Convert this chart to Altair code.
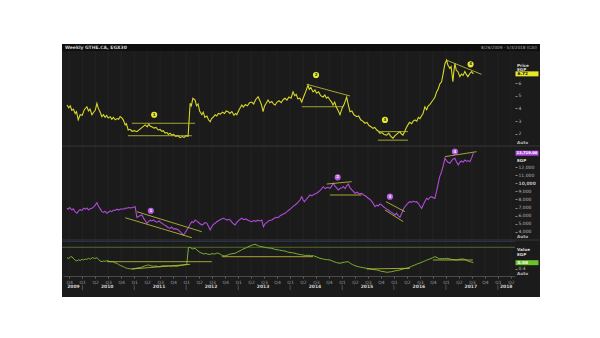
import altair as alt
import pandas as pd

# ---------------- data (x = decimal year, weekly series) ----------------
price_pts = [
    (2009.706, 4.27), (2009.74, 4.05), (2009.77, 4.2), (2009.80, 3.85), (2009.83, 3.95), (2009.865, 3.6),
    (2009.89, 3.75), (2009.923, 3.1), (2009.96, 3.5), (2010.00, 3.45), (2010.04, 3.9), (2010.09, 4.13),
    (2010.12, 3.8), (2010.15, 3.95), (2010.187, 3.5), (2010.22, 3.7), (2010.25, 3.85), (2010.283, 4.4),
    (2010.31, 4.0), (2010.34, 3.75), (2010.379, 3.35), (2010.41, 3.5), (2010.44, 3.3), (2010.47, 3.45),
    (2010.5, 3.25), (2010.54, 3.35), (2010.57, 3.15), (2010.60, 3.3), (2010.635, 3.1), (2010.67, 3.2),
    (2010.70, 3.15), (2010.73, 3.35), (2010.763, 3.25), (2010.79, 3.1), (2010.827, 2.7), (2010.85, 2.8),
    (2010.885, 2.3), (2010.92, 2.35), (2010.96, 2.2), (2011.00, 2.25), (2011.052, 2.17), (2011.212, 2.7),
    (2011.25, 2.55), (2011.28, 2.75), (2011.31, 2.6), (2011.34, 2.56), (2011.38, 2.45), (2011.42, 2.5),
    (2011.462, 2.3), (2011.50, 2.35), (2011.53, 2.2), (2011.56, 2.25), (2011.596, 2.06), (2011.63, 2.1),
    (2011.66, 1.95), (2011.69, 2.05), (2011.725, 1.9), (2011.76, 1.95), (2011.80, 1.8), (2011.84, 1.85),
    (2011.885, 1.7), (2011.92, 1.78), (2011.96, 1.72), (2012.00, 1.85), (2012.038, 1.8), (2012.077, 4.4),
    (2012.10, 4.2), (2012.13, 4.8), (2012.173, 4.66), (2012.20, 4.2), (2012.23, 4.35), (2012.26, 3.8),
    (2012.302, 3.5), (2012.33, 3.7), (2012.36, 3.3), (2012.40, 3.4), (2012.43, 3.1), (2012.462, 2.95),
    (2012.49, 3.2), (2012.52, 3.3), (2012.558, 3.5), (2012.59, 3.4), (2012.62, 3.6), (2012.66, 3.55),
    (2012.70, 3.7), (2012.74, 3.6), (2012.77, 3.8), (2012.808, 3.74), (2012.84, 3.6), (2012.88, 3.75),
    (2012.92, 3.45), (2012.95, 3.6), (2012.975, 3.5), (2013.02, 3.9), (2013.071, 4.27), (2013.10, 4.1),
    (2013.14, 4.3), (2013.18, 4.2), (2013.22, 4.45), (2013.263, 4.5), (2013.30, 4.35), (2013.34, 4.7),
    (2013.385, 4.92), (2013.42, 4.6), (2013.45, 4.3), (2013.481, 3.74), (2013.51, 4.2), (2013.54, 4.4),
    (2013.577, 4.66), (2013.61, 4.45), (2013.65, 4.55), (2013.68, 4.35), (2013.712, 4.27), (2013.75, 4.5),
    (2013.79, 4.6), (2013.83, 4.45), (2013.87, 4.7), (2013.904, 4.8), (2013.94, 4.65), (2013.98, 4.9),
    (2014.02, 4.8), (2014.058, 5.3), (2014.09, 5.0), (2014.12, 5.1), (2014.15, 4.75), (2014.19, 4.8),
    (2014.225, 4.5), (2014.26, 4.9), (2014.30, 5.3), (2014.346, 5.84), (2014.37, 5.5), (2014.40, 5.65),
    (2014.442, 5.3), (2014.48, 5.45), (2014.51, 5.2), (2014.55, 5.3), (2014.59, 5.0), (2014.635, 4.9),
    (2014.67, 5.05), (2014.70, 4.8), (2014.73, 4.9), (2014.769, 4.66), (2014.80, 4.5), (2014.827, 4.27),
    (2014.86, 4.5), (2014.89, 4.1), (2014.93, 3.8), (2014.962, 3.5), (2015.00, 4.0), (2015.04, 4.3),
    (2015.09, 4.9), (2015.12, 4.3), (2015.154, 3.74), (2015.19, 3.8), (2015.23, 3.5), (2015.283, 3.35),
    (2015.32, 3.4), (2015.36, 3.1), (2015.40, 3.0), (2015.442, 2.83), (2015.48, 2.9), (2015.52, 2.65),
    (2015.56, 2.55), (2015.596, 2.43), (2015.63, 2.5), (2015.67, 2.3), (2015.70, 2.2), (2015.731, 2.04),
    (2015.77, 2.1), (2015.81, 1.95), (2015.86, 1.9), (2015.90, 2.05), (2015.94, 1.8), (2015.981, 1.65),
    (2016.02, 1.85), (2016.06, 2.0), (2016.115, 2.17), (2016.14, 2.0), (2016.173, 1.9), (2016.21, 2.2),
    (2016.24, 2.5), (2016.269, 2.7), (2016.30, 2.9), (2016.34, 2.8), (2016.37, 3.0), (2016.404, 3.09),
    (2016.44, 3.0), (2016.47, 3.3), (2016.5, 3.2), (2016.53, 3.4), (2016.56, 3.6), (2016.596, 4.13),
    (2016.63, 3.9), (2016.66, 4.2), (2016.69, 4.3), (2016.725, 4.5), (2016.76, 4.7), (2016.79, 4.9),
    (2016.821, 5.3), (2016.85, 5.5), (2016.88, 5.9), (2016.917, 6.1), (2016.95, 6.8), (2016.98, 7.5),
    (2017.013, 7.8), (2017.04, 7.4), (2017.077, 7.15), (2017.10, 7.3), (2017.135, 6.1), (2017.15, 6.8),
    (2017.173, 7.55), (2017.20, 7.0), (2017.23, 6.9), (2017.269, 6.5), (2017.30, 6.7), (2017.33, 6.6),
    (2017.365, 6.9), (2017.39, 6.7), (2017.423, 6.5), (2017.46, 6.75), (2017.494, 6.9), (2017.53, 6.72),
]

index_pts = [
    (2009.706, 6914), (2009.73, 6800), (2009.76, 7000), (2009.802, 6700), (2009.83, 6850), (2009.86, 6500),
    (2009.898, 6295), (2009.93, 6600), (2009.96, 6750), (2010.00, 6650), (2010.025, 6914), (2010.06, 6800),
    (2010.09, 6950), (2010.121, 6700), (2010.15, 6850), (2010.187, 6914), (2010.22, 7100), (2010.25, 7300),
    (2010.283, 7604), (2010.31, 7200), (2010.34, 6900), (2010.379, 6500), (2010.41, 6400), (2010.44, 6550),
    (2010.475, 6295), (2010.51, 6450), (2010.54, 6600), (2010.57, 6500), (2010.602, 6700), (2010.63, 6650),
    (2010.67, 6800), (2010.70, 6700), (2010.731, 6790), (2010.76, 6850), (2010.80, 6800), (2010.83, 6950),
    (2010.86, 6914), (2010.90, 7000), (2010.94, 6950), (2010.98, 7050), (2011.019, 7110), (2011.052, 5800),
    (2011.10, 5950), (2011.148, 6085), (2011.18, 5700), (2011.21, 5400), (2011.244, 5060), (2011.28, 5300),
    (2011.31, 5450), (2011.34, 5350), (2011.371, 5470), (2011.40, 5300), (2011.44, 5200), (2011.48, 5350),
    (2011.533, 5060), (2011.57, 4900), (2011.61, 4750), (2011.65, 4550), (2011.692, 4440), (2011.72, 4600),
    (2011.76, 4350), (2011.80, 4400), (2011.852, 4230), (2011.89, 4000), (2011.92, 3800), (2011.948, 3615),
    (2011.98, 3900), (2012.013, 4230), (2012.05, 4600), (2012.08, 5000), (2012.11, 5260), (2012.14, 5150),
    (2012.173, 5470), (2012.21, 5300), (2012.25, 5100), (2012.302, 4850), (2012.33, 4950), (2012.36, 5150),
    (2012.398, 5060), (2012.43, 4700), (2012.462, 4230), (2012.49, 4600), (2012.52, 4900), (2012.558, 5060),
    (2012.59, 5250), (2012.63, 5400), (2012.67, 5550), (2012.717, 5680), (2012.75, 5600), (2012.79, 5450),
    (2012.82, 5550), (2012.846, 5470), (2012.88, 5200), (2012.91, 5000), (2012.942, 4850), (2012.98, 5200),
    (2013.02, 5450), (2013.071, 5680), (2013.11, 5500), (2013.15, 5600), (2013.20, 5400), (2013.263, 5260),
    (2013.30, 5400), (2013.34, 5300), (2013.38, 5450), (2013.42, 5350), (2013.456, 5470), (2013.487, 4640),
    (2013.52, 5000), (2013.56, 5200), (2013.60, 5400), (2013.648, 5470), (2013.69, 5650), (2013.73, 5800),
    (2013.77, 5750), (2013.81, 6000), (2013.85, 6150), (2013.904, 6295), (2013.94, 6500), (2013.98, 6700),
    (2014.02, 6900), (2014.06, 7150), (2014.096, 7320), (2014.13, 7500), (2014.16, 7700), (2014.192, 7940),
    (2014.225, 8345), (2014.25, 8000), (2014.275, 7730), (2014.31, 8000), (2014.35, 8300), (2014.385, 8555),
    (2014.42, 8450), (2014.46, 8650), (2014.513, 8765), (2014.55, 8950), (2014.59, 9200), (2014.64, 9580),
    (2014.68, 9350), (2014.72, 9500), (2014.769, 9380), (2014.80, 9650), (2014.833, 10000), (2014.86, 9700),
    (2014.90, 9400), (2014.929, 9170), (2014.96, 9350), (2015.00, 9450), (2015.025, 9580), (2015.06, 9350),
    (2015.09, 9700), (2015.121, 9910), (2015.15, 9500), (2015.19, 9200), (2015.22, 9000), (2015.25, 8765),
    (2015.29, 8900), (2015.33, 8700), (2015.379, 8765), (2015.42, 8550), (2015.46, 8400), (2015.506, 8150),
    (2015.54, 8000), (2015.58, 7700), (2015.61, 7400), (2015.635, 7110), (2015.67, 7300), (2015.70, 7200),
    (2015.73, 7450), (2015.763, 7320), (2015.80, 7100), (2015.84, 6900), (2015.89, 6700), (2015.93, 6500),
    (2015.97, 6350), (2016.019, 6085), (2016.05, 6300), (2016.08, 6000), (2016.115, 5800), (2016.15, 6300),
    (2016.18, 6800), (2016.212, 7110), (2016.25, 7400), (2016.28, 7600), (2016.308, 7730), (2016.34, 7650),
    (2016.37, 7800), (2016.40, 7700), (2016.437, 7730), (2016.47, 7500), (2016.50, 7200), (2016.533, 6914),
    (2016.56, 7300), (2016.60, 7800), (2016.629, 8150), (2016.66, 8000), (2016.69, 8250), (2016.725, 8345),
    (2016.76, 8200), (2016.788, 8150), (2016.82, 9000), (2016.852, 10000), (2016.88, 10800), (2016.917, 11430),
    (2016.95, 12200), (2016.981, 13090), (2017.01, 12800), (2017.04, 12600), (2017.077, 12470), (2017.11, 12800),
    (2017.14, 13000), (2017.173, 13090), (2017.20, 12700), (2017.237, 12260), (2017.27, 12600), (2017.30, 12750),
    (2017.33, 12600), (2017.365, 12880), (2017.40, 12700), (2017.43, 12800), (2017.462, 12670), (2017.50, 13200),
    (2017.53, 13719),
]

value_pts = [
    (2009.706, 0.583), (2009.74, 0.57), (2009.77, 0.595), (2009.802, 0.6), (2009.84, 0.56), (2009.87, 0.54),
    (2009.898, 0.528), (2009.93, 0.55), (2009.96, 0.535), (2010.00, 0.56), (2010.025, 0.545), (2010.06, 0.56),
    (2010.09, 0.555), (2010.121, 0.573), (2010.16, 0.56), (2010.20, 0.585), (2010.24, 0.57), (2010.283, 0.583),
    (2010.31, 0.56), (2010.34, 0.53), (2010.379, 0.517), (2010.41, 0.53), (2010.44, 0.52), (2010.47, 0.535),
    (2010.506, 0.528), (2010.54, 0.515), (2010.58, 0.52), (2010.62, 0.5), (2010.667, 0.49), (2010.70, 0.47),
    (2010.73, 0.455), (2010.76, 0.445), (2010.794, 0.433), (2010.83, 0.415), (2010.87, 0.405), (2010.91, 0.4),
    (2010.956, 0.395), (2011.00, 0.4), (2011.05, 0.41), (2011.115, 0.417), (2011.16, 0.43), (2011.20, 0.445),
    (2011.24, 0.455), (2011.275, 0.462), (2011.32, 0.45), (2011.37, 0.44), (2011.42, 0.445), (2011.467, 0.433),
    (2011.51, 0.44), (2011.56, 0.45), (2011.61, 0.445), (2011.66, 0.45), (2011.70, 0.44), (2011.75, 0.445),
    (2011.80, 0.44), (2011.852, 0.445), (2011.90, 0.455), (2011.95, 0.46), (2012.013, 0.473), (2012.044, 0.75),
    (2012.08, 0.755), (2012.12, 0.73), (2012.173, 0.74), (2012.21, 0.71), (2012.25, 0.68), (2012.302, 0.657),
    (2012.34, 0.645), (2012.38, 0.655), (2012.42, 0.64), (2012.462, 0.64), (2012.50, 0.65), (2012.55, 0.645),
    (2012.59, 0.66), (2012.621, 0.657), (2012.66, 0.64), (2012.70, 0.62), (2012.75, 0.612), (2012.79, 0.625),
    (2012.83, 0.64), (2012.88, 0.65), (2012.942, 0.657), (2012.99, 0.68), (2013.04, 0.70), (2013.09, 0.725),
    (2013.135, 0.74), (2013.18, 0.76), (2013.23, 0.78), (2013.28, 0.795), (2013.327, 0.807), (2013.37, 0.79),
    (2013.41, 0.775), (2013.456, 0.767), (2013.50, 0.76), (2013.55, 0.75), (2013.60, 0.745), (2013.648, 0.74),
    (2013.70, 0.725), (2013.75, 0.715), (2013.80, 0.71), (2013.85, 0.70), (2013.904, 0.695), (2013.95, 0.68),
    (2014.00, 0.67), (2014.05, 0.665), (2014.096, 0.657), (2014.14, 0.645), (2014.20, 0.635), (2014.256, 0.628),
    (2014.30, 0.62), (2014.35, 0.625), (2014.40, 0.615), (2014.448, 0.617), (2014.50, 0.6), (2014.54, 0.585),
    (2014.577, 0.573), (2014.62, 0.565), (2014.67, 0.555), (2014.72, 0.55), (2014.769, 0.545), (2014.81, 0.53),
    (2014.85, 0.515), (2014.90, 0.5), (2014.962, 0.49), (2015.00, 0.5), (2015.05, 0.51), (2015.121, 0.517),
    (2015.16, 0.49), (2015.20, 0.47), (2015.25, 0.45), (2015.313, 0.433), (2015.36, 0.425), (2015.42, 0.415),
    (2015.475, 0.407), (2015.52, 0.4), (2015.57, 0.39), (2015.62, 0.385), (2015.667, 0.378), (2015.71, 0.37),
    (2015.76, 0.355), (2015.81, 0.35), (2015.86, 0.34), (2015.91, 0.345), (2015.956, 0.35), (2016.00, 0.36),
    (2016.06, 0.37), (2016.115, 0.378), (2016.16, 0.39), (2016.20, 0.4), (2016.244, 0.407), (2016.29, 0.42),
    (2016.34, 0.44), (2016.404, 0.462), (2016.45, 0.48), (2016.50, 0.495), (2016.563, 0.517), (2016.61, 0.535),
    (2016.65, 0.55), (2016.692, 0.562), (2016.74, 0.58), (2016.788, 0.6), (2016.83, 0.585), (2016.885, 0.562),
    (2016.93, 0.57), (2016.97, 0.565), (2017.013, 0.573), (2017.06, 0.565), (2017.11, 0.555), (2017.16, 0.55),
    (2017.206, 0.545), (2017.25, 0.555), (2017.29, 0.56), (2017.333, 0.562), (2017.38, 0.55), (2017.42, 0.53),
    (2017.462, 0.517), (2017.50, 0.51), (2017.53, 0.5),
]

# drawn pattern annotations
price_seg_t = [2010.956, 2010.879, 2014.321, 2014.225, 2015.692, 2015.692, 2017.013]
price_seg_t2 = [2012.173, 2012.11, 2015.154, 2015.019, 2016.269, 2016.269, 2017.687]
price_seg_v = [2.83, 1.85, 5.9, 4.13, 2.17, 1.5, 7.8]
price_seg_v2 = [2.83, 1.85, 4.98, 4.13, 2.17, 1.5, 6.68]
price_mark_t = [2011.385, 2014.5, 2015.827, 2017.475]
price_mark_v = [3.5, 6.63, 3.09, 7.47]
mark_labels = ["1", "2", "3", "4"]

index_seg_t = [2011.052, 2010.827, 2014.706, 2014.769, 2015.846, 2015.827, 2016.981]
index_seg_t2 = [2012.302, 2012.11, 2015.187, 2015.379, 2016.212, 2016.179, 2017.59]
index_seg_v = [6495, 5750, 9910, 8555, 7730, 6700, 13290]
index_seg_v2 = [4022, 3282, 10200, 8555, 6495, 5260, 13900]
index_mark_t = [2011.321, 2014.917, 2015.923, 2017.173]
index_mark_v = [6616, 10740, 8345, 13900]

value_seg_t = [2010.475, 2010.956, 2012.687, 2015.475, 2016.75]
value_seg_t2 = [2012.494, 2012.077, 2014.442, 2016.308, 2017.52]
value_seg_v = [0.517, 0.395, 0.6, 0.395, 0.545]
value_seg_v2 = [0.517, 0.473, 0.6, 0.407, 0.545]
value_ref = [0.757]

price_ticks = [2, 3, 4, 5, 6]
index_ticks = [4000, 5000, 6000, 7000, 8000, 9000, 10000, 11000, 12000]
value_ticks = [0.4]
quarter_ticks = [2009.75 + 0.25 * i for i in range(35)]
year_sep = [2010, 2011, 2012, 2013, 2014, 2015, 2016, 2017, 2018]
year_pos = [2009.83, 2010.48, 2011.48, 2012.48, 2013.48, 2014.48, 2015.48, 2016.48, 2017.48, 2018.16]
year_lab = ["2009", "2010", "2011", "2012", "2013", "2014", "2015", "2016", "2017", "2018"]

title_txt = "Weekly GTHE.CA, EGX30"
range_txt = "8/26/2009 - 5/3/2018 (CAI)"

# ---------------- frames ----------------
price_df = pd.DataFrame(price_pts, columns=["t", "v"])
index_df = pd.DataFrame(index_pts, columns=["t", "v"])
value_df = pd.DataFrame(value_pts, columns=["t", "v"])
pseg = pd.DataFrame({"t": price_seg_t, "t2": price_seg_t2, "v": price_seg_v, "v2": price_seg_v2})
iseg = pd.DataFrame({"t": index_seg_t, "t2": index_seg_t2, "v": index_seg_v, "v2": index_seg_v2})
vseg = pd.DataFrame({"t": value_seg_t, "t2": value_seg_t2, "v": value_seg_v, "v2": value_seg_v2})
pmark = pd.DataFrame({"t": price_mark_t, "v": price_mark_v, "lab": mark_labels})
imark = pd.DataFrame({"t": index_mark_t, "v": index_mark_v, "lab": mark_labels})
qdf = pd.DataFrame({"t": quarter_ticks})
ysep = pd.DataFrame({"t": year_sep})
ylab = pd.DataFrame({"t": year_pos, "lab": year_lab})

W, H = 478, 253
LABEL = "#b8b8b8"
FONT = "DejaVu Sans"

xs = alt.Scale(domain=[2009.63, 2018.33], range=[1, 453], nice=False, zero=False)
ps = alt.Scale(domain=[1.118, 8.52], range=[101, 7], nice=False, zero=False)
ins = alt.Scale(domain=[3000, 14481], range=[196, 103], nice=False, zero=False)
vs = alt.Scale(domain=[0.278, 0.862], range=[232, 197], nice=False, zero=False)

xaxis = alt.Axis(
    orient="bottom", offset=-21, values=quarter_ticks,
    labelExpr="'Q' + (round((datum.value - floor(datum.value + 0.001)) * 4) + 1)",
    labelFontSize=4.5, labelColor="#9a9a9a", labelFont=FONT, labelPadding=1,
    tickSize=2, tickColor="#666", domainColor="#4a4a4a", grid=False,
    labelOverlap=False, labelFlush=False, title=None,
)
X = alt.X("t:Q", scale=xs, axis=xaxis, title=None)


def yaxis(vals, fmt, bold=None):
    kw = dict(orient="right", offset=-25, values=vals, format=fmt, labelFontSize=4.5,
              labelColor=LABEL, labelFont=FONT, tickSize=2, tickColor="#888",
              domain=False, grid=False, labelPadding=1, title=None, labelOverlap=False)
    if bold is not None:
        kw["labelFontWeight"] = {"condition": {"test": f"datum.value == {bold}", "value": "bold"},
                                 "value": "normal"}
    return alt.Axis(**kw)


def Yc(scale, axis=None):
    return alt.Y("v:Q", scale=scale, axis=axis, title=None)


one = pd.DataFrame({"k": [0]})

# grid
grid = alt.Chart(qdf).mark_rule(color="#272727", strokeWidth=0.7).encode(
    x=X, y=alt.value(7), y2=alt.value(232))

# header bar + frame lines
header = alt.Chart(one).mark_rect(color="#0e0e0e").encode(
    x=alt.value(0), x2=alt.value(W), y=alt.value(0), y2=alt.value(7))
sep1 = alt.Chart(one).mark_rule(color="#3c3c3c", strokeWidth=0.8).encode(
    x=alt.value(0), x2=alt.value(W), y=alt.value(102))
sep2 = alt.Chart(one).mark_rule(color="#3c3c3c", strokeWidth=0.8).encode(
    x=alt.value(0), x2=alt.value(W), y=alt.value(196))
sep3 = alt.Chart(one).mark_rule(color="#25324a", strokeWidth=1).encode(
    x=alt.value(0), x2=alt.value(453), y=alt.value(197.5))
title_t = alt.Chart(one).mark_text(align="left", baseline="middle", fontSize=4.5, font=FONT,
                                   fontWeight="bold", color="#cfcfcf").encode(
    x=alt.value(3), y=alt.value(3.6), text=alt.value(title_txt))
range_t = alt.Chart(one).mark_text(align="right", baseline="middle", fontSize=4.2, font=FONT,
                                   color="#aaaaaa").encode(
    x=alt.value(475), y=alt.value(3.6), text=alt.value(range_txt))

# price panel
p_line = alt.Chart(price_df).mark_line(color="#d8d82a", strokeWidth=1.1).encode(
    x=X, y=Yc(ps, yaxis(price_ticks, "d")))
p_seg = alt.Chart(pseg).mark_rule(color="#c8c83a", strokeWidth=0.8).encode(
    x=X, x2="t2:Q", y=Yc(ps), y2="v2:Q")
p_dot = alt.Chart(pmark).mark_circle(size=38, color="#e8e830", opacity=1).encode(x=X, y=Yc(ps))
p_num = alt.Chart(pmark).mark_text(fontSize=4, font=FONT, fontWeight="bold", color="#222").encode(
    x=X, y=Yc(ps), text="lab:N")

# index panel
i_line = alt.Chart(index_df).mark_line(color="#b04ad8", strokeWidth=1.1).encode(
    x=X, y=Yc(ins, yaxis(index_ticks, ",.0f", bold=10000)))
i_seg = alt.Chart(iseg).mark_rule(color="#c8c83a", strokeWidth=0.8).encode(
    x=X, x2="t2:Q", y=Yc(ins), y2="v2:Q")
i_dot = alt.Chart(imark).mark_circle(size=38, color="#b85ce0", opacity=1).encode(x=X, y=Yc(ins))
i_num = alt.Chart(imark).mark_text(fontSize=4, font=FONT, fontWeight="bold", color="#f0f0f0").encode(
    x=X, y=Yc(ins), text="lab:N")

# value panel
v_ref = alt.Chart(pd.DataFrame({"v": value_ref})).mark_rule(color="#4f6a2a", strokeWidth=1).encode(
    x=alt.value(0), x2=alt.value(453), y=Yc(vs))
v_line = alt.Chart(value_df).mark_line(color="#78b030", strokeWidth=1).encode(
    x=X, y=Yc(vs, yaxis(value_ticks, ".1f")))
v_seg = alt.Chart(vseg).mark_rule(color="#c8c83a", strokeWidth=0.8).encode(
    x=X, x2="t2:Q", y=Yc(vs), y2="v2:Q")

# year row
y_sep = alt.Chart(ysep).mark_text(fontSize=5, font=FONT, color="#9a9a9a", baseline="middle").encode(
    x=X, y=alt.value(243), text=alt.value("|"))
y_lab = alt.Chart(ylab).mark_text(fontSize=4.5, font=FONT, fontWeight="bold", color="#d0d0d0",
                                  baseline="middle").encode(x=X, y=alt.value(243), text="lab:N")


# right-hand label column
def side_text(txt, ypix, color="#d8d8d8", bold=True):
    return alt.Chart(one).mark_text(align="left", baseline="middle", fontSize=4.2, font=FONT,
                                    fontWeight="bold" if bold else "normal", color=color).encode(
        x=alt.value(455), y=alt.value(ypix), text=alt.value(txt))


last_p = pd.DataFrame({"v": [price_pts[-1][1]], "lab": [f"{price_pts[-1][1]:.2f}"]})
last_i = pd.DataFrame({"v": [index_pts[-1][1]], "lab": [f"{index_pts[-1][1]:,.2f}"]})
last_v = pd.DataFrame({"v": [value_pts[-1][1]], "lab": [f"{value_pts[-1][1]:.2f}"]})

p_box = alt.Chart(last_p).mark_tick(orient="horizontal", size=23, thickness=5, color="#e8e82a",
                                    opacity=1).encode(x=alt.value(465), y=Yc(ps))
p_box_t = alt.Chart(last_p).mark_text(align="left", baseline="middle", fontSize=4.2, font=FONT,
                                      fontWeight="bold", color="#111").encode(
    x=alt.value(455.5), y=Yc(ps), text="lab:N")
i_box = alt.Chart(last_i).mark_tick(orient="horizontal", size=23, thickness=5, color="#b44fe0",
                                    opacity=1).encode(x=alt.value(465), y=Yc(ins))
i_box_t = alt.Chart(last_i).mark_text(align="left", baseline="middle", fontSize=3.7, font=FONT,
                                      fontWeight="bold", color="#ffffff").encode(
    x=alt.value(454.5), y=Yc(ins), text="lab:N")
v_box = alt.Chart(last_v).mark_tick(orient="horizontal", size=23, thickness=5, color="#6cc02a",
                                    opacity=1).encode(x=alt.value(465), y=Yc(vs))
v_box_t = alt.Chart(last_v).mark_text(align="left", baseline="middle", fontSize=4.2, font=FONT,
                                      fontWeight="bold", color="#ffffff").encode(
    x=alt.value(455.5), y=Yc(vs), text="lab:N")

layers = [
    grid, header, sep1, sep2, sep3,
    p_line, p_seg, p_dot, p_num,
    i_line, i_seg, i_dot, i_num,
    v_ref, v_line, v_seg,
    y_sep, y_lab, title_t, range_t,
    side_text("Price", 22), side_text("EGP", 25.7),
    side_text("Auto", 99, "#bbbbbb"),
    side_text("EGP", 116.7), side_text("Auto", 193, "#bbbbbb"),
    side_text("Value", 205.5), side_text("EGP", 211), side_text("Auto", 230, "#bbbbbb"),
    p_box, p_box_t, i_box, i_box_t, v_box, v_box_t,
]

chart = alt.layer(*layers).resolve_scale(y="independent").properties(
    width=W, height=H, autosize=alt.AutoSizeParams(type="none"),
    padding={"left": 62, "top": 44, "right": 60, "bottom": 41},
    background="white",
).configure_view(fill="#1b1b1b", stroke=None)

chart.save("out.html", embed_options={"renderer": "svg", "actions": False})
